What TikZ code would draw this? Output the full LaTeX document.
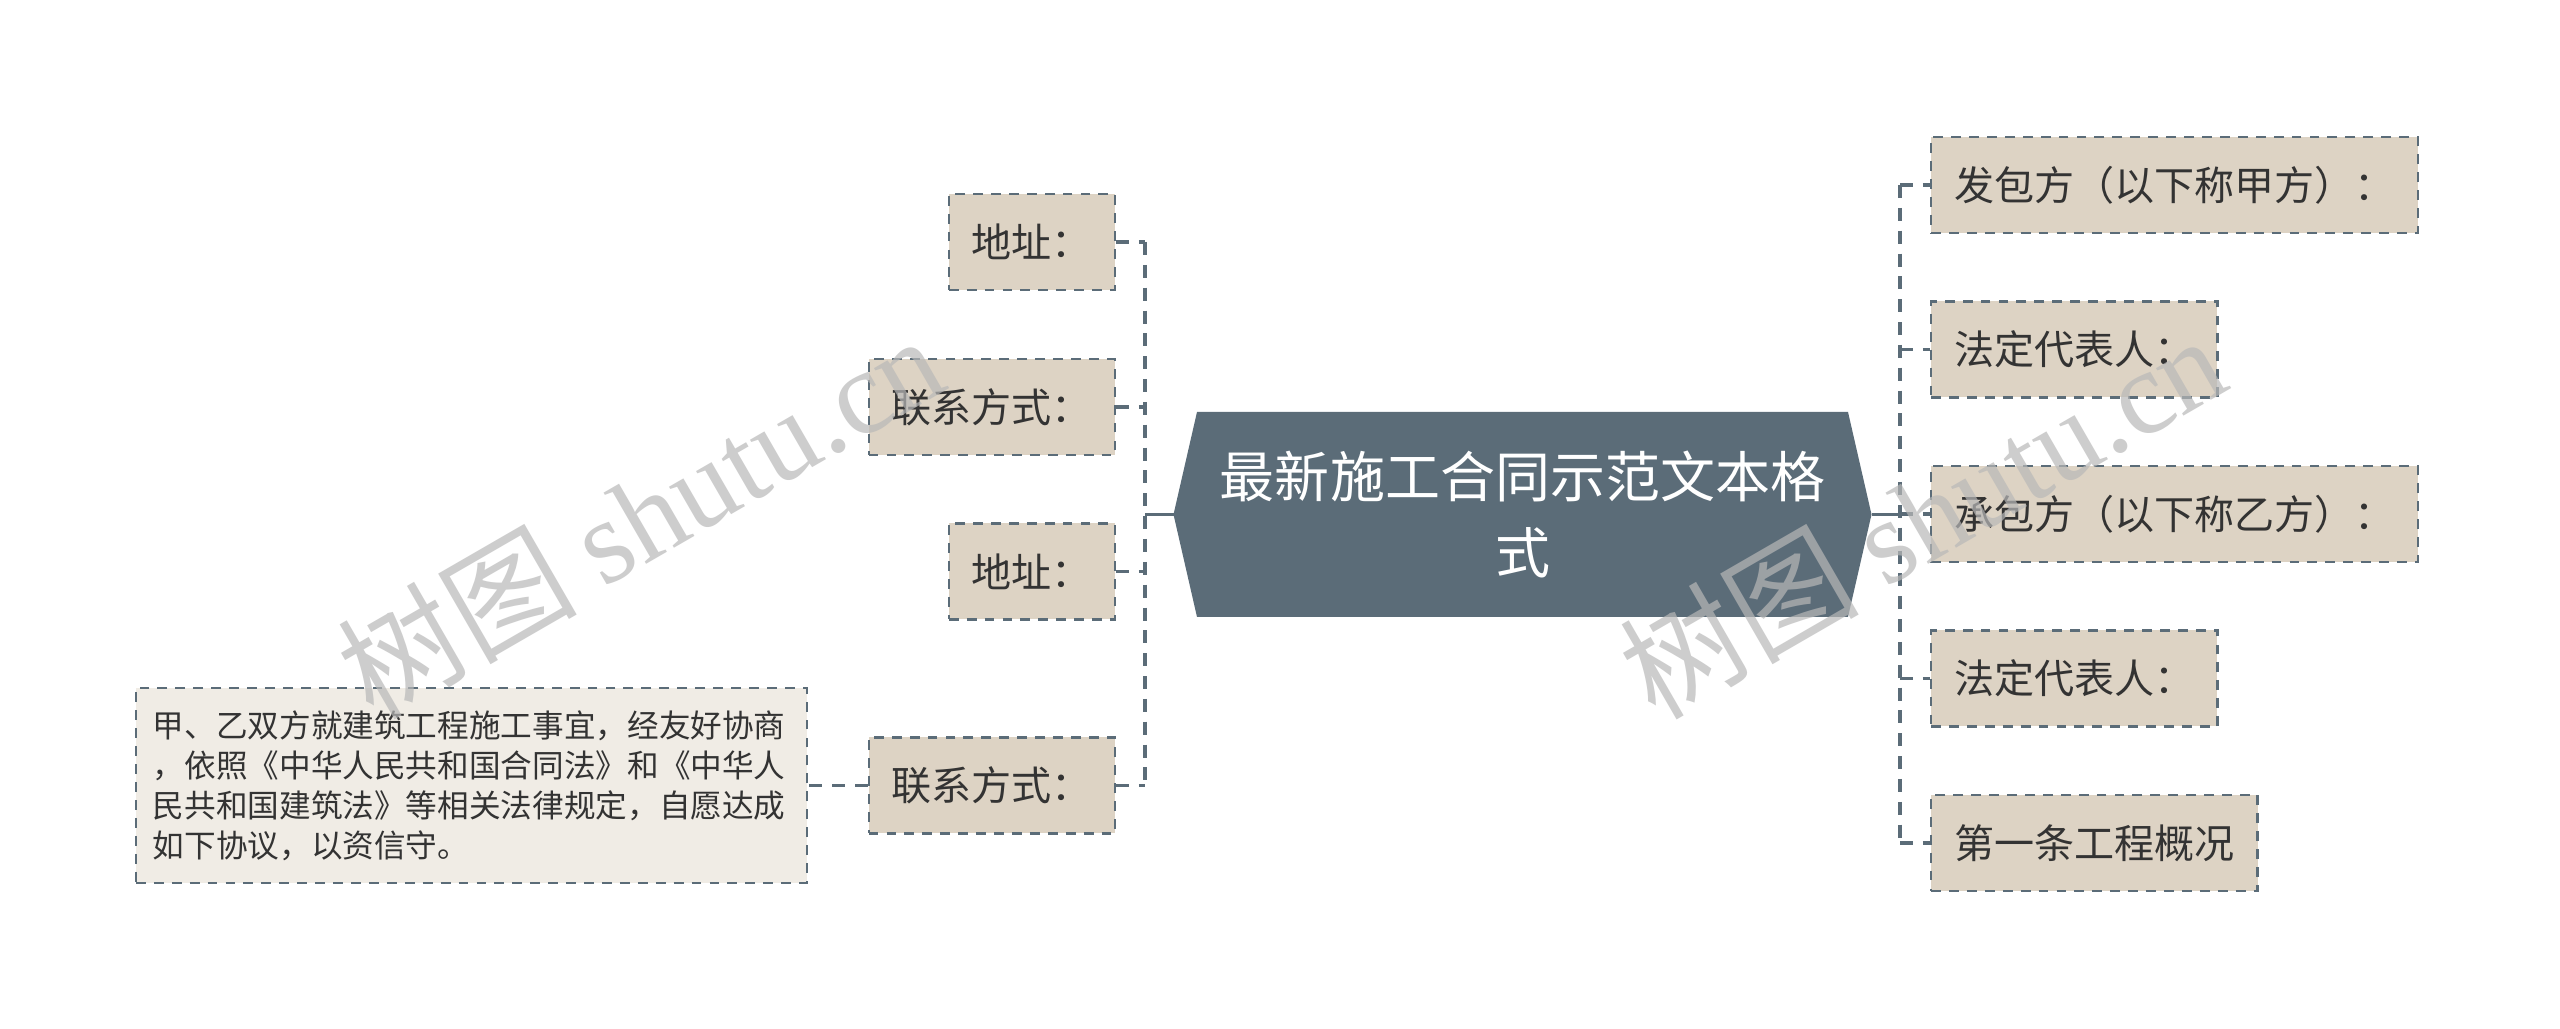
\documentclass[tikz,border=0pt]{standalone}
\usepackage{fontspec}
\setmainfont{Noto Sans CJK SC}
\newfontfamily\wmfont{Liberation Serif}
\usetikzlibrary{calc,positioning}

\definecolor{slate}{HTML}{5B6C78}
\definecolor{sand}{HTML}{DDD3C4}
\definecolor{paper}{HTML}{F0ECE5}
\definecolor{ink}{HTML}{333333}

\tikzset{
  leaf/.style={draw=slate, line width=0.6pt, dash pattern=on 2.8pt off 2.3pt,
    fill=sand, text=ink, font=\fontsize{11.4pt}{13pt}\selectfont,
    minimum height=0.96cm, inner xsep=0.23cm, inner ysep=0pt},
  note/.style={leaf, fill=paper, font=\fontsize{9pt}{11.4pt}\selectfont,
    text width=6.37cm, align=left, inner xsep=0.17cm, minimum height=1.95cm},
  link/.style={draw=slate, line width=1pt, dash pattern=on 3.7pt off 2.8pt},
  trunk/.style={draw=slate, line width=1pt},
  wm/.style={text=black!28, text opacity=0.7, rotate=30,
    font=\fontsize{34pt}{34pt}\selectfont}
}

\begin{document}
\begin{tikzpicture}
\useasboundingbox (0,0) rectangle (25.6,-10.29);
\fill[white] (0,0) rectangle (25.6,-10.29);

% central topic
\coordinate (c) at (15.225,-5.145);
\fill[slate] ($(c)+(-3.49,0)$) coordinate (hexW)
  -- ($(c)+(-3.255,1.025)$) -- ($(c)+(3.255,1.025)$)
  -- ($(c)+(3.49,0)$) coordinate (hexE)
  -- ($(c)+(3.255,-1.025)$) -- ($(c)+(-3.255,-1.025)$) -- cycle;
\node[text=white, align=center, font=\fontsize{15.65pt}{21.6pt}\selectfont]
  (title) at (c) {最新施工合同示范文本格\\式};

\coordinate (lbus) at (11.45,-5.145);
\coordinate (rbus) at (19.00,-5.145);

% left branch
\node[leaf, anchor=east] (l1) at (11.16,-2.42) {地址：};
\node[leaf, anchor=east] (l2) at (11.16,-4.07) {联系方式：};
\node[leaf, anchor=east] (l3) at (11.16,-5.715) {地址：};
\node[leaf, anchor=east] (l4) at (11.16,-7.855) {联系方式：};
\node[note, anchor=east] (n4) at (8.08,-7.855)
  {甲、乙双方就建筑工程施工事宜，经友好协商\\，依照《中华人民共和国合同法》和《中华人\\民共和国建筑法》等相关法律规定，自愿达成\\如下协议，以资信守。};

% right branch
\node[leaf, anchor=west] (r1) at (19.30,-1.85) {发包方（以下称甲方）：};
\node[leaf, anchor=west] (r2) at (19.30,-3.495) {法定代表人：};
\node[leaf, anchor=west] (r3) at (19.30,-5.14) {承包方（以下称乙方）：};
\node[leaf, anchor=west] (r4) at (19.30,-6.785) {法定代表人：};
\node[leaf, anchor=west] (r5) at (19.30,-8.43) {第一条工程概况};

% connectors
\draw[trunk] (hexW) -- (lbus);
\draw[trunk] (hexE) -- ($(rbus)+(0.1,0)$);
\draw[link] (lbus |- l1.east) -- (lbus |- l4.east);
\draw[link] (rbus |- r1.west) -- (rbus |- r5.west);
\foreach \n in {l1,l2,l3,l4}
  \draw[link] (\n.east) -- (lbus |- \n.east);
\foreach \n in {r1,r2,r3,r4,r5}
  \draw[link] (rbus |- \n.west) -- (\n.west);
\draw[link] (l4.west) -- (n4.east);

% watermark
\node[wm] (wm1) at (6.40,-5.15) {树图 {\wmfont shutu.cn}};
\node[wm] (wm2) at (19.22,-5.15) {树图 {\wmfont shutu.cn}};
\end{tikzpicture}
\end{document}
